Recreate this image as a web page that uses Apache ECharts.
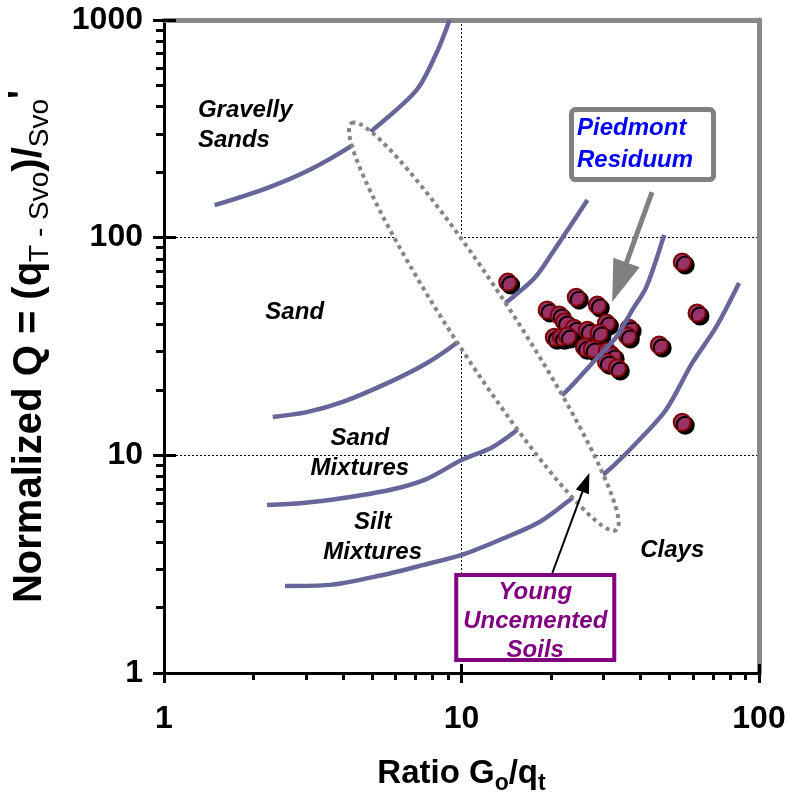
<!DOCTYPE html>
<html>
<head>
<meta charset="utf-8">
<script src="https://cdn.jsdelivr.net/npm/echarts@6/dist/echarts.min.js"></script>
<style>html,body{margin:0;padding:0;background:#fff}#c{width:789px;height:804px}</style>
</head>
<body>
<div id="c"></div>
<script>
// ---- tick values ----
const xTicks = [1, 10, 100];
const yTicks = [1, 10, 100, 1000];
const xMinorTicks = [2, 3, 4, 5, 6, 7, 8, 9, 20, 30, 40, 50, 60, 70, 80, 90];
const yMinorTicks = [2, 3, 4, 5, 6, 7, 8, 9, 20, 30, 40, 50, 60, 70, 80, 90, 200, 300, 400, 500, 600, 700, 800, 900];

// ---- soil-type boundary curves [Go/qt, Q] ----
const boundaryGravellySand = [[1.48, 141], [2.22, 169], [3.09, 205], [4.31, 266], [5.03, 312], [7.06, 476], [8.24, 705], [9.12, 1000]];
const boundarySand = [[2.32, 15.0], [3.02, 15.8], [3.99, 17.6], [5.73, 21.7], [7.63, 26.5], [9.70, 33.1], [14.2, 50.6], [17.6, 65.2], [20.5, 87.7], [23.0, 111], [26.5, 149]];
const boundarySandMixtures = [[2.22, 5.91], [2.93, 6.04], [3.81, 6.30], [5.73, 6.93], [7.63, 7.78], [10.0, 9.51], [12.7, 10.9], [15.4, 13.1], [21.8, 18.9], [27.5, 26.5], [33.1, 34.9], [37.5, 46.5], [41.8, 59.3], [48.0, 103]];
const boundarySiltMixtures = [[2.55, 2.51], [3.61, 2.54], [5.43, 2.82], [7.40, 3.13], [10.2, 3.52], [13.4, 4.08], [18.3, 4.94], [23.6, 6.37], [30.7, 8.38], [38.7, 11.4], [48.7, 16.2], [59.6, 26.5], [71.8, 38.9], [85.7, 61.9]];

// ---- Piedmont residuum data points [Go/qt, Q] ----
const piedmontResiduum = [
  [14.3, 62.5], [55.2, 77.3], [24.3, 53.3], [19.4, 46.5], [28.6, 49.0], [21.3, 44.1], [22.2, 41.0],
  [30.7, 40.5], [36.6, 38.4], [36.1, 35.3], [23.9, 38.4], [26.5, 37.6], [29.0, 36.5], [20.5, 34.9],
  [21.7, 34.9], [22.7, 35.3], [25.9, 31.4], [27.5, 30.8], [61.9, 45.1], [46.2, 32.1], [30.9, 30.1],
  [32.1, 28.6], [30.7, 26.8], [33.4, 25.2], [55.2, 14.2]
];

// ---- young uncemented soils zone: major-axis end points [x1, y1, x2, y2] ----
const youngSoilsZone = [[4.27, 336, 33.1, 4.54]];

// ---- zone labels ----
const zoneLabels = ['Gravelly\nSands', 'Sand', 'Sand\nMixtures', 'Silt\nMixtures', 'Clays'];
const zoneLabelAt = [[1.30, 329], [2.75, 45.5], [4.55, 10.19], [5.03, 4.21], [51.1, 3.67]];

// ---- callouts ----
const callouts = ['Piedmont\nResiduum', 'Young\nUncemented\nSoils'];
const calloutBoxAt = [[40.6, 267.8], [17.7, 1.80]];
const calloutArrowFrom = [[43.7, 162], [20.2, 2.88]];
const calloutArrowTo = [[32.1, 50.6], [26.9, 8.29]];

const FONT = '"Liberation Sans", Arial, sans-serif';
const curveColor = '#66669a';

const calloutStyle = [
  { w: 142, h: 70, r: 4, border: '#808080', borderWidth: 5, color: '#0000ff', align: 'left', dx: -65.5, dy: 0, lineHeight: 32,
    arrow: '#808080', shaft: 5, headLen: 42, headHalf: 14 },
  { w: 158, h: 85, r: 0, border: '#800080', borderWidth: 4, color: '#800080', align: 'center', dx: 0, dy: 3.5, lineHeight: 29,
    arrow: '#000000', shaft: 2, headLen: 20, headHalf: 7 }
];

function renderZone(params, api) {
  const a = api.coord([api.value(0), api.value(1)]);
  const b = api.coord([api.value(2), api.value(3)]);
  const cx = (a[0] + b[0]) / 2, cy = (a[1] + b[1]) / 2;
  const rx = Math.hypot(b[0] - a[0], b[1] - a[1]) / 2;
  const ang = Math.atan2(b[1] - a[1], b[0] - a[0]);
  return {
    type: 'ellipse', x: cx, y: cy, rotation: -ang,
    shape: { cx: 0, cy: 0, rx: rx, ry: 31 },
    style: { fill: '#ffffff', stroke: '#858585', lineWidth: 4, lineDash: [4, 4] }
  };
}

function renderZoneLabel(params, api) {
  const p = api.coord([api.value(0), api.value(1)]);
  const i = params.dataIndex;
  return {
    type: 'text', x: p[0], y: p[1],
    style: { text: zoneLabels[i], font: 'italic bold 24px ' + FONT, fill: '#000', align: i === 0 ? 'left' : 'center', verticalAlign: 'middle', lineHeight: 30 }
  };
}

function renderCallout(params, api) {
  const i = params.dataIndex;
  const st = calloutStyle[i];
  const c = api.coord([api.value(0), api.value(1)]);
  const a = api.coord([api.value(2), api.value(3)]);
  const b = api.coord([api.value(4), api.value(5)]);
  const dx = b[0] - a[0], dy = b[1] - a[1], len = Math.hypot(dx, dy);
  const ux = dx / len, uy = dy / len;
  const base = [b[0] - ux * st.headLen, b[1] - uy * st.headLen];
  const px = -uy, py = ux;
  return {
    type: 'group',
    children: [
      { type: 'line', shape: { x1: a[0], y1: a[1], x2: base[0] + ux * 2, y2: base[1] + uy * 2 }, style: { stroke: st.arrow, lineWidth: st.shaft } },
      { type: 'polygon', shape: { points: [[b[0], b[1]], [base[0] + px * st.headHalf, base[1] + py * st.headHalf], [base[0] - px * st.headHalf, base[1] - py * st.headHalf]] }, style: { fill: st.arrow } },
      { type: 'rect', shape: { x: c[0] - st.w / 2, y: c[1] - st.h / 2, width: st.w, height: st.h, r: st.r }, style: { fill: '#ffffff', stroke: st.border, lineWidth: st.borderWidth } },
      { type: 'text', x: c[0] + st.dx, y: c[1] + st.dy, style: { text: callouts[i], font: 'italic bold 24px ' + FONT, fill: st.color, align: st.align, verticalAlign: 'middle', lineHeight: st.lineHeight } }
    ]
  };
}

function curve(data) {
  return {
    type: 'line', data: data, xAxisIndex: 0, yAxisIndex: 0, smooth: 0.3, showSymbol: false, symbol: 'none', z: 3,
    lineStyle: { color: curveColor, width: 4.5 }, silent: true
  };
}

const blackTick = { color: '#000', width: 3 };
const hiddenAxis = { axisLine: { show: false }, axisLabel: { show: false }, splitLine: { show: false } };
const plainNumber = v => String(Math.round(v));

const chart = echarts.init(document.getElementById('c'), null, { renderer: 'canvas' });
chart.setOption({
  animation: false,
  backgroundColor: '#ffffff',
  grid: { left: 164, right: 30, top: 20, bottom: 131, outerBoundsMode: 'none' },
  xAxis: [
    {
      type: 'log', logBase: 10, position: 'bottom', min: 1, max: 100,
      axisLine: { lineStyle: { color: '#000', width: 3 } },
      axisTick: { customValues: xTicks, length: 10, lineStyle: blackTick },
      axisLabel: { customValues: xTicks, formatter: plainNumber, margin: 30, color: '#000', fontFamily: FONT, fontWeight: 'bold', fontSize: 32 },
      splitLine: { show: true, lineStyle: { color: '#000', width: 1, type: [2, 2] } },
      name: '{m|Ratio G}{s|o}{m|/q}{s|t}', nameLocation: 'middle', nameGap: 80,
      nameTextStyle: {
        rich: {
          m: { fontFamily: FONT, fontWeight: 'bold', fontSize: 33, lineHeight: 42, color: '#000', verticalAlign: 'middle' },
          s: { fontFamily: FONT, fontWeight: 'bold', fontSize: 23, lineHeight: 28, color: '#000', verticalAlign: 'bottom' }
        }
      }
    },
    Object.assign({ type: 'log', position: 'bottom', min: 1, max: 100, axisTick: { customValues: xMinorTicks, length: 7, lineStyle: blackTick } }, hiddenAxis),
    Object.assign({ type: 'log', position: 'bottom', min: 1, max: 100, axisTick: { customValues: xTicks, inside: true, length: 9, lineStyle: blackTick } }, hiddenAxis),
    { type: 'log', position: 'top', min: 1, max: 100, axisLine: { lineStyle: { color: '#888888', width: 5 } }, axisTick: { show: false }, axisLabel: { show: false }, splitLine: { show: false } }
  ],
  yAxis: [
    {
      type: 'log', logBase: 10, position: 'left', min: 1, max: 1000,
      axisLine: { lineStyle: { color: '#000', width: 3 } },
      axisTick: { customValues: yTicks, length: 11, lineStyle: blackTick },
      axisLabel: { customValues: yTicks, formatter: plainNumber, margin: 21, color: '#000', fontFamily: FONT, fontWeight: 'bold', fontSize: 32 },
      splitLine: { show: true, lineStyle: { color: '#000', width: 1, type: [2, 2] } },
      name: '{m|Normalized Q = (q}{s|T - Svo}{m|)/}{s|Svo}{p|\'}', nameLocation: 'middle', nameGap: 110,
      nameTextStyle: {
        rich: {
          m: { fontFamily: FONT, fontWeight: 'bold', fontSize: 40, lineHeight: 48, color: '#000', verticalAlign: 'middle' },
          s: { fontFamily: FONT, fontSize: 28, lineHeight: 32, color: '#000', verticalAlign: 'bottom' },
          p: { fontFamily: FONT, fontWeight: 'bold', fontSize: 38, lineHeight: 38, color: '#000', verticalAlign: 'top' }
        }
      }
    },
    Object.assign({ type: 'log', position: 'left', min: 1, max: 1000, axisTick: { customValues: yMinorTicks, length: 8, lineStyle: blackTick } }, hiddenAxis),
    Object.assign({ type: 'log', position: 'left', min: 1, max: 1000, axisTick: { customValues: yTicks, inside: true, length: 12, lineStyle: blackTick } }, hiddenAxis),
    { type: 'log', position: 'right', min: 1, max: 1000, axisLine: { lineStyle: { color: '#888888', width: 5 } }, axisTick: { show: false }, axisLabel: { show: false }, splitLine: { show: false } }
  ],
  series: [
    {
      type: 'scatter', data: piedmontResiduum, xAxisIndex: 0, yAxisIndex: 0, symbol: 'circle', symbolSize: 17, z: 2,
      itemStyle: { color: '#993366', borderColor: '#800000', borderWidth: 2, shadowColor: '#000', shadowOffsetX: 3, shadowOffsetY: 3, shadowBlur: 0, opacity: 1 },
      silent: true
    },
    curve(boundaryGravellySand),
    curve(boundarySand),
    curve(boundarySandMixtures),
    curve(boundarySiltMixtures),
    { type: 'custom', data: youngSoilsZone, xAxisIndex: 0, yAxisIndex: 0, renderItem: renderZone, z: 4, clip: false, silent: true },
    { type: 'custom', data: zoneLabelAt, xAxisIndex: 0, yAxisIndex: 0, renderItem: renderZoneLabel, z: 5, clip: false, silent: true },
    {
      type: 'custom', xAxisIndex: 0, yAxisIndex: 0, renderItem: renderCallout, z: 6, clip: false, silent: true,
      data: calloutBoxAt.map((b, i) => [b[0], b[1], calloutArrowFrom[i][0], calloutArrowFrom[i][1], calloutArrowTo[i][0], calloutArrowTo[i][1]])
    }
  ]
});
</script>
</body>
</html>
